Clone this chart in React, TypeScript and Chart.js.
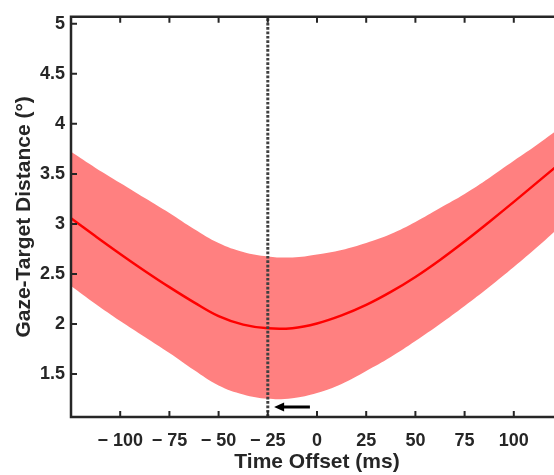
import { useEffect, useRef } from "react";
import { Chart, registerables } from "chart.js";

Chart.register(...registerables);

// ---- data ----
const TIME = [-125, -112.5, -100, -87.5, -75, -62.5, -50, -37.5, -25, -12.5, 0, 12.5, 25, 37.5, 50, 62.5, 75, 87.5, 100, 112.5, 125];
const MEAN = [3.056, 2.876, 2.7, 2.53, 2.368, 2.216, 2.078, 1.993, 1.956, 1.958, 2.005, 2.085, 2.19, 2.32, 2.47, 2.64, 2.825, 3.02, 3.22, 3.425, 3.63];
const UPPER = [3.72, 3.56, 3.41, 3.26, 3.11, 2.95, 2.81, 2.72, 2.675, 2.665, 2.695, 2.74, 2.81, 2.9, 3.02, 3.16, 3.3, 3.46, 3.63, 3.8, 3.98];
const LOWER = [2.38, 2.2, 2.03, 1.87, 1.71, 1.54, 1.385, 1.295, 1.252, 1.258, 1.31, 1.4, 1.53, 1.67, 1.83, 2.0, 2.18, 2.37, 2.57, 2.78, 3.0];

const X_TICKS = [-100, -75, -50, -25, 0, 25, 50, 75, 100];
const Y_TICKS = [1.5, 2, 2.5, 3, 3.5, 4, 4.5, 5];
const X_MIN = -125;
const X_MAX = 125;
const Y_MIN = 1.07;
const Y_MAX = 5.07;
const MARKER_X = -25;
const ARROW_FROM = -3.6;
const ARROW_TO = -21.8;
const ARROW_Y = 1.17;

const X_TITLE = "Time Offset (ms)";
const Y_TITLE = "Gaze-Target Distance (°)";

const AXIS_COLOR = "#262626";
const FONT = "Arial, 'Liberation Sans', Helvetica, sans-serif";

const framePlugin = {
  id: "frame",
  afterDatasetsDraw(chart: any) {
    const { ctx, chartArea, scales } = chart;
    const { left, right, top, bottom } = chartArea;
    const xs = scales.x;
    const ys = scales.y;
    ctx.save();
    // arrow
    const ay = ys.getPixelForValue(ARROW_Y);
    const ax0 = xs.getPixelForValue(ARROW_FROM);
    const ax1 = xs.getPixelForValue(ARROW_TO);
    ctx.strokeStyle = "#000";
    ctx.fillStyle = "#000";
    ctx.lineWidth = 3;
    ctx.beginPath();
    ctx.moveTo(ax0, ay);
    ctx.lineTo(ax1 + 8, ay);
    ctx.stroke();
    ctx.beginPath();
    ctx.moveTo(ax1, ay);
    ctx.lineTo(ax1 + 10, ay - 4.5);
    ctx.lineTo(ax1 + 10, ay + 4.5);
    ctx.closePath();
    ctx.fill();

    // frame
    ctx.strokeStyle = AXIS_COLOR;
    ctx.lineWidth = 2.5;
    ctx.beginPath();
    ctx.moveTo(left, top);
    ctx.lineTo(right, top);
    ctx.lineTo(right, bottom);
    ctx.lineTo(left, bottom);
    ctx.closePath();
    ctx.stroke();
    ctx.lineWidth = 2;
    ctx.beginPath();
    for (const v of X_TICKS) {
      const px = xs.getPixelForValue(v);
      ctx.moveTo(px, bottom);
      ctx.lineTo(px, bottom - 6);
      ctx.moveTo(px, top);
      ctx.lineTo(px, top + 6);
    }
    for (const v of Y_TICKS) {
      const py = ys.getPixelForValue(v);
      ctx.moveTo(left, py);
      ctx.lineTo(left + 6, py);
      ctx.moveTo(right, py);
      ctx.lineTo(right - 6, py);
    }
    ctx.stroke();
    ctx.restore();
  },
};

export default function App() {
  const ref = useRef<HTMLCanvasElement | null>(null);

  useEffect(() => {
    document.body.style.margin = "0";
    const canvas = ref.current;
    if (!canvas) return;
    const pts = (ys: number[]) => TIME.map((t, i) => ({ x: t, y: ys[i] }));
    const chart = new Chart(canvas, {
      type: "line",
      data: {
        datasets: [
          {
            data: [
              { x: MARKER_X, y: Y_MIN },
              { x: MARKER_X, y: Y_MAX },
            ],
            borderColor: "#404040",
            borderWidth: 3,
            borderDash: [2.7, 1.7],
            pointRadius: 0,
            tension: 0,
            fill: false,
            order: 0,
          },
          {
            data: pts(MEAN),
            borderColor: "#ff0000",
            borderWidth: 2.5,
            pointRadius: 0,
            tension: 0.4,
            fill: false,
            order: 1,
          },
          {
            data: pts(UPPER),
            borderWidth: 0,
            borderColor: "rgba(0,0,0,0)",
            backgroundColor: "#ff8080",
            pointRadius: 0,
            tension: 0.4,
            fill: "+1",
            order: 2,
          },
          {
            data: pts(LOWER),
            borderWidth: 0,
            borderColor: "rgba(0,0,0,0)",
            backgroundColor: "#ff8080",
            pointRadius: 0,
            tension: 0.4,
            fill: false,
            order: 3,
          },
        ],
      },
      options: {
        animation: false,
        responsive: false,
        devicePixelRatio: 1,
        layout: { padding: { top: 14, right: 0, left: 0, bottom: 0 } },
        plugins: {
          legend: { display: false },
          tooltip: { enabled: false },
        },
        scales: {
          x: {
            type: "linear",
            min: X_MIN,
            max: X_MAX,
            grid: { display: false, drawTicks: false },
            border: { display: false },
            afterBuildTicks: (s: any) => {
              s.ticks = X_TICKS.map((v) => ({ value: v }));
            },
            afterFit: (s: any) => {
              s.height = 58;
            },
            ticks: {
              autoSkip: false,
              maxRotation: 0,
              padding: 13,
              color: AXIS_COLOR,
              font: { family: FONT, size: 18, weight: "bold" },
              callback: (v: any) => (v < 0 ? "\u2212 " + Math.abs(v) : String(v)),
            },
            title: {
              display: true,
              text: X_TITLE,
              color: AXIS_COLOR,
              padding: 0,
              font: { family: FONT, size: 21, weight: "bold" },
            },
          },
          y: {
            type: "linear",
            min: Y_MIN,
            max: Y_MAX,
            grid: { display: false, drawTicks: false },
            border: { display: false },
            afterBuildTicks: (s: any) => {
              s.ticks = Y_TICKS.map((v) => ({ value: v }));
            },
            afterFit: (s: any) => {
              s.width = 71;
            },
            ticks: {
              autoSkip: false,
              padding: 6,
              color: AXIS_COLOR,
              font: { family: FONT, size: 18, weight: "bold" },
              callback: (v: any) => String(v),
            },
            title: {
              display: true,
              text: Y_TITLE,
              color: AXIS_COLOR,
              padding: { top: 12, bottom: 0 },
              font: { family: FONT, size: 21, weight: "bold" },
            },
          },
        },
      },
      plugins: [framePlugin],
    } as any);
    return () => chart.destroy();
  }, []);

  return (
    <div style={{ width: 554, height: 475, overflow: "hidden" }}>
      <canvas ref={ref} width={563} height={475} style={{ display: "block" }} />
    </div>
  );
}
